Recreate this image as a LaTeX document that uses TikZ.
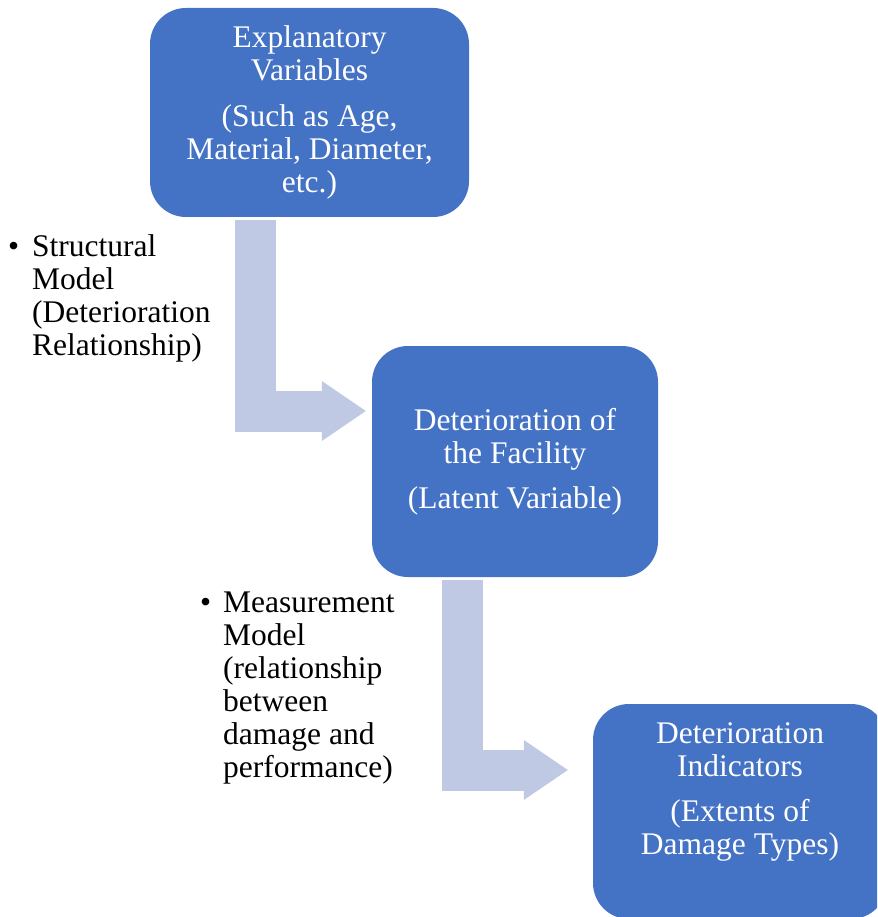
\documentclass[tikz,border=0pt]{standalone}
\usepackage{fontspec}
\setmainfont{Liberation Serif}
\usetikzlibrary{arrows.meta,calc}

\definecolor{boxblue}{RGB}{68,114,196}
\definecolor{arrowblue}{RGB}{191,201,227}

\tikzset{
	stagebox/.style={fill=boxblue, text=white, rounded corners=36pt, align=center, inner sep=0pt, font=\fontsize{31.5}{33}\selectfont},
	boxtext/.style={text=white, align=center, inner sep=0pt, font=\fontsize{31.5}{33}\selectfont},
	bendarrow/.style={draw=arrowblue, line width=41pt, line join=miter, -{Triangle[line width=0pt, width=60pt, length=44pt]}},
	note/.style={anchor=base west, inner sep=0pt, font=\fontsize{31.5}{33}\selectfont}
}

\begin{document}
\begin{tikzpicture}[x=1pt,y=-1pt]
		\useasboundingbox (0,0) rectangle (877,917);
		\clip (0,0) rectangle (877,917);
		
		% boxes
		\node[stagebox, minimum width=319pt, minimum height=209pt] (explan) at (309.5,112.5) {Explanatory\\Variables\\[13pt](Such as Age,\\Material, Diameter,\\etc.)};
		\node[stagebox, minimum width=286pt, minimum height=231pt] (latent) at (515,461.5) {Deterioration of\\the Facility\\[12pt](Latent Variable)};
		\node[stagebox, minimum width=294pt, minimum height=215pt] (indic) at (740,811.5) {};
		\node[boxtext] (indictext) at ($(indic.center)+(0,-20)$) {Deterioration\\Indicators\\[12pt](Extents of\\Damage Types)};
		
		% bent arrows
		\coordinate (a1start) at ($(explan.south)+(-54,3)$);
		\coordinate (a1end) at ($(latent.west)+(-6,-50.5)$);
		\draw[bendarrow] (a1start) |- (a1end);
		\coordinate (a2start) at ($(latent.south)+(-53,3)$);
		\coordinate (a2end) at ($(indic.west)+(-25,-41.5)$);
		\draw[bendarrow] (a2start) |- (a2end);
		
		% notes
		\node[note] (structnote) at (8,256) {\begin{tabular}[t]{@{}l@{}l@{}}\makebox[24pt][l]{•} & Structural\\ & Model\\ & (Deterioration\\ & Relationship)\end{tabular}};
		\node[note] (measnote) at (200,612) {\begin{tabular}[t]{@{}l@{}l@{}}\makebox[23pt][l]{•} & Measurement\\ & Model\\ & (relationship\\ & between\\ & damage and\\ & performance)\end{tabular}};
		
\end{tikzpicture}
\end{document}
